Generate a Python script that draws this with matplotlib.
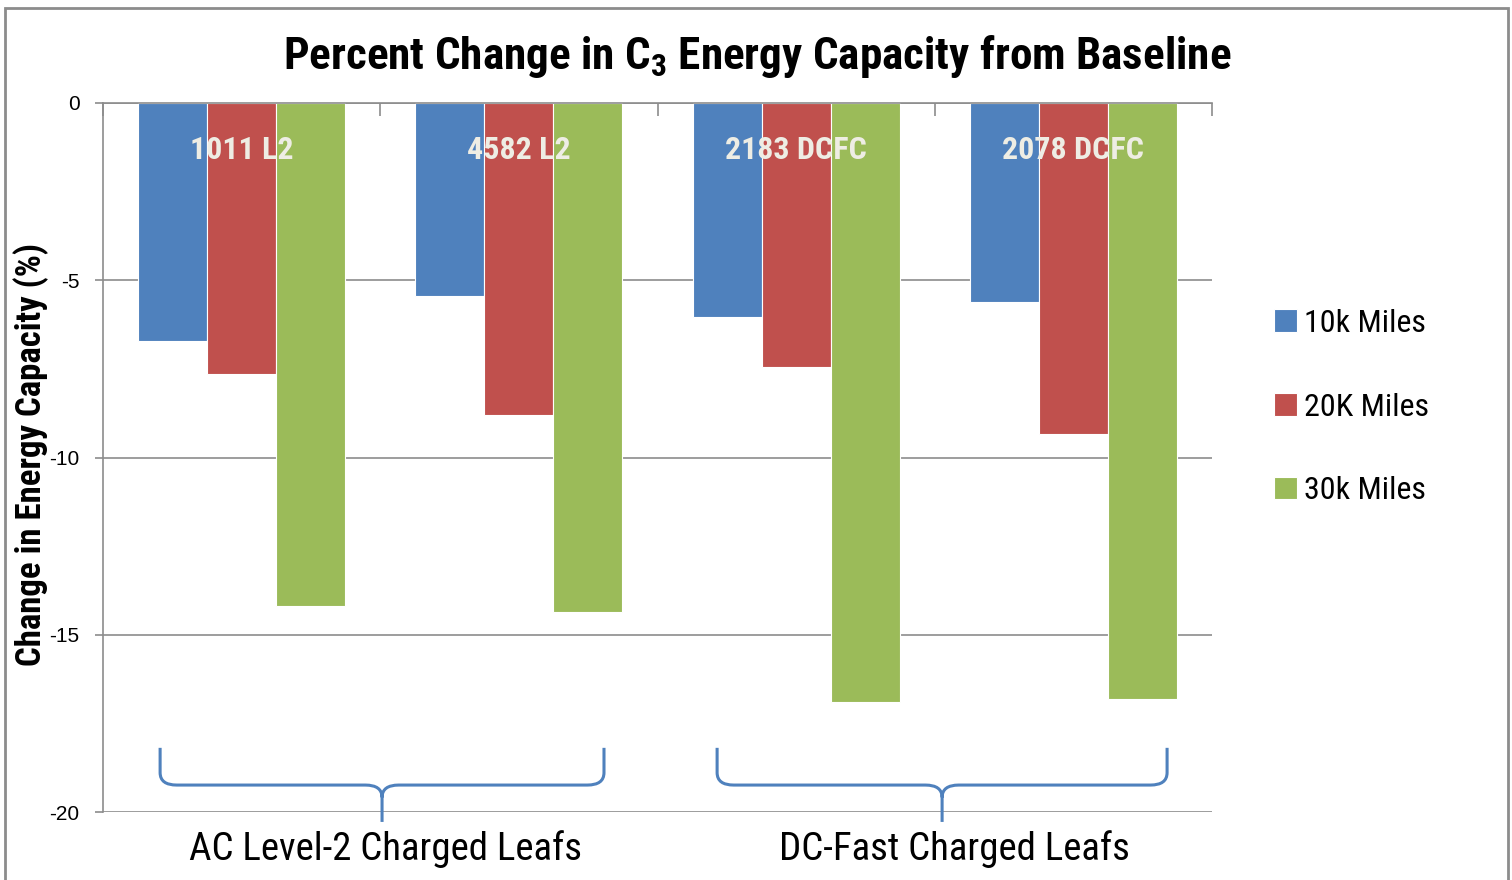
import matplotlib
matplotlib.use("Agg")
import matplotlib.pyplot as plt
from matplotlib.patches import Rectangle
from matplotlib.path import Path
from matplotlib.patches import PathPatch
import numpy as np

categories = ["1011 L2", "4582 L2", "2183 DCFC", "2078 DCFC"]
series = ["10k Miles", "20K Miles", "30k Miles"]
v10k = [-6.7, -5.45, -6.05, -5.6]
v20k = [-7.65, -8.8, -7.45, -9.35]
v30k = [-14.2, -14.35, -16.9, -16.8]
colors = ["#4F81BD", "#C0504D", "#9BBB59"]
groups = ["AC Level-2 Charged Leafs", "DC-Fast Charged Leafs"]
group_members = [(0, 1), (2, 3)]
yticks = [0, -5, -10, -15, -20]

# layout of the braces (offsets from the outer categories) and labels
brace_lpad = [0.294, 0.285]
brace_rpad = [0.307, 0.338]
label_shift = [0.02, 0.07]

NARROW = ["Roboto Condensed", "DejaVu Sans"]
plt.rcParams['font.family'] = NARROW
plt.rcParams['mathtext.default'] = 'regular'

fig = plt.figure(figsize=(15.12, 8.8), dpi=100)
ax = fig.add_axes([103/1512, 1-812/880, (1212-103)/1512, (812-103)/880])

x = np.arange(len(categories))
w = 0.249
for k, (vals, c, lab) in enumerate(zip([v10k, v20k, v30k], colors, series)):
    ax.bar(x + (k-1)*w, vals, width=w, color=c, edgecolor="white", linewidth=0.8,
           label=lab, zorder=2)

ax.set_xlim(-0.5, len(categories)-0.5)
ax.set_ylim(-20, 0)
ax.set_yticks(yticks)
ax.set_yticklabels([str(t) for t in yticks], fontsize=15, family=["Liberation Sans", "DejaVu Sans"])
ax.yaxis.grid(True, color="#8C8C8C", linewidth=1.2, zorder=0)
ax.set_axisbelow(True)
for s in ["right", "bottom"]:
    ax.spines[s].set_visible(False)
for s in ["left", "top"]:
    ax.spines[s].set_color("#8C8C8C")
    ax.spines[s].set_linewidth(1.2)
ax.tick_params(axis="y", direction="out", length=6, width=1.2, color="#8C8C8C", pad=11)
ax.xaxis.set_ticks_position("top")
ax.set_xticks(np.arange(-0.5, len(categories)+0.5, 1.0))
ax.tick_params(axis="x", direction="in", length=9, width=1.2, color="#8C8C8C",
               labeltop=False, labelbottom=False)

for i, c in enumerate(categories):
    ax.text(i, -1.33, c, ha="center", va="center", fontsize=23, fontweight="bold",
            color="#EEEDE4", zorder=3)

# group braces
for gi, ((a, b), g) in enumerate(zip(group_members, groups)):
    x0 = a - brace_lpad[gi]
    x1 = b + brace_rpad[gi]
    xm = (x0 + x1) / 2
    ytop, ymid, ybot = -18.19, -19.24, -20.28
    r = 0.06
    ry = 0.35
    verts = [(x0, ytop), (x0, ymid + ry), (x0, ymid), (x0 + r, ymid),
             (xm - r, ymid), (xm, ymid), (xm, ymid - ry), (xm, ybot),
             (xm, ymid - ry), (xm, ymid), (xm + r, ymid),
             (x1 - r, ymid), (x1, ymid), (x1, ymid + ry), (x1, ytop)]
    codes = [Path.MOVETO, Path.LINETO, Path.CURVE3, Path.CURVE3,
             Path.LINETO, Path.CURVE3, Path.CURVE3, Path.LINETO,
             Path.MOVETO, Path.CURVE3, Path.CURVE3,
             Path.LINETO, Path.CURVE3, Path.CURVE3, Path.LINETO]
    pp = PathPatch(Path(verts, codes), facecolor="none", edgecolor="#4F81BD",
                   linewidth=2.2, clip_on=False, zorder=4)
    ax.add_patch(pp)
    ax.text((a + b) / 2 + label_shift[gi], -21.05, g, ha="center", va="center",
            fontsize=28, color="black", clip_on=False)

fig.text(31/1512, 1-454/880, "Change in Energy Capacity (%)", rotation=90,
         ha="center", va="center", fontsize=25, fontweight="bold")

fig.text(757/1512, 1-56/880, "Percent Change in C$_3$ Energy Capacity from Baseline",
         ha="center", va="center", fontsize=32.5, fontweight="bold")

leg = fig.legend(loc="center left", bbox_to_anchor=(1245/1512, 1-407/880), frameon=False,
                 fontsize=23, handlelength=0.72, handleheight=0.7, handletextpad=0.22,
                 labelspacing=1.72)

fig.add_artist(Rectangle((5/1512, -0.05), 1503/1512, 1-8/880+0.05, transform=fig.transFigure,
                         facecolor="none", edgecolor="#8C8C8C", linewidth=2))

fig.savefig("out.png", dpi=100)
